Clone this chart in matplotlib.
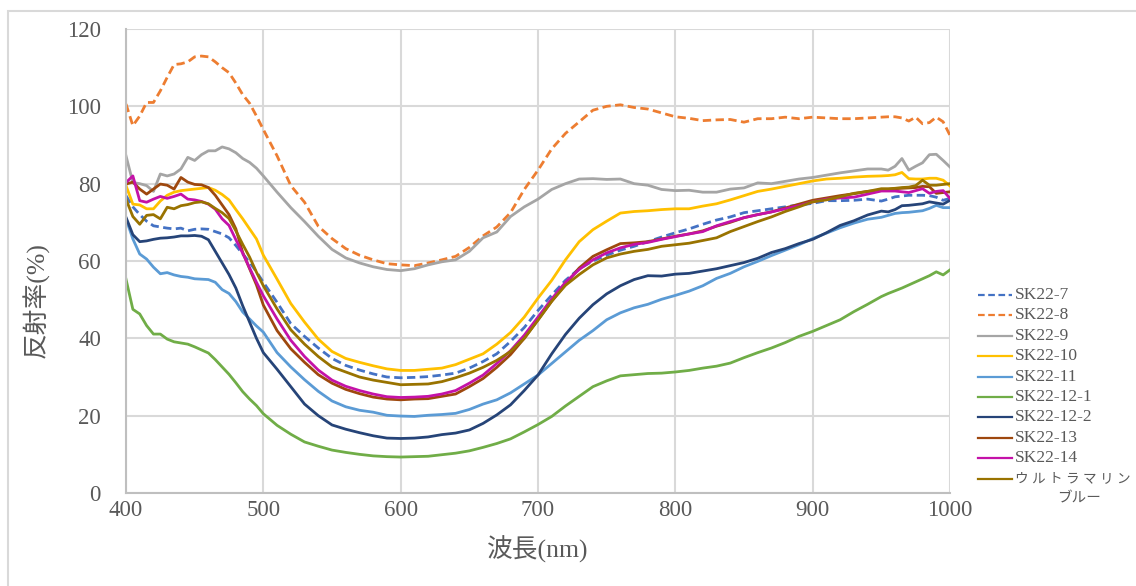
import numpy as np
import matplotlib
matplotlib.use('Agg')
import matplotlib.pyplot as plt
from matplotlib.lines import Line2D
from matplotlib.patches import Rectangle

plt.rcParams['font.family'] = ['Liberation Serif', 'Noto Sans CJK JP', 'DejaVu Sans']

# ---------------- data ----------------
wavelength = np.concatenate([np.arange(400, 501, 5), np.arange(510, 951, 10), np.arange(955, 1001, 5)])

series_names = ['SK22-7', 'SK22-8', 'SK22-9', 'SK22-10', 'SK22-11', 'SK22-12-1',
                'SK22-12-2', 'SK22-13', 'SK22-14', 'ウルトラマリンブルー']

sk22_7 = [76.9, 74.0, 72.0, 70.3, 69.1, 68.8, 68.5, 68.3, 68.5, 67.8, 68.2, 68.3, 68.2, 67.6, 67.0, 66.0, 64.0, 61.8, 59.7, 57.2, 54.5,
          49.3, 43.8, 40.5, 37.5, 34.8, 33.0, 31.8, 30.8, 30.0, 29.8,
          29.9, 30.1, 30.5, 31.0, 32.3, 34.0, 36.0, 39.2, 42.8, 47.2,
          51.2, 55.0, 58.0, 60.0, 61.5, 62.8, 63.8, 65.0, 66.2, 67.3,
          68.3, 69.5, 70.6, 71.4, 72.5, 73.0, 73.5, 74.0, 74.5, 74.9,
          75.6, 75.6, 75.7, 76.0, 75.5,
          76.0, 76.6, 76.8, 77.0, 77.0, 77.0, 76.9, 76.5, 75.7, 76.2]
sk22_8 = [100.6, 95.0, 97.5, 101.0, 101.0, 104.0, 107.5, 110.8, 111.0, 111.5, 112.8, 113.0, 112.8, 111.5, 110.0, 108.7, 106.0, 103.0, 100.8, 97.5, 94.0,
          87.2, 79.5, 75.2, 69.0, 65.8, 63.2, 61.5, 60.3, 59.3, 59.0,
          58.8, 59.5, 60.3, 61.2, 63.5, 66.5, 68.8, 72.5, 78.5, 83.5,
          89.0, 93.0, 96.0, 99.0, 100.0, 100.4, 99.7, 99.3, 98.3, 97.3,
          96.9, 96.3, 96.5, 96.6, 95.9, 96.8, 96.8, 97.2, 96.8, 97.2,
          97.0, 96.8, 96.8, 97.0, 97.2,
          97.3, 97.3, 97.0, 96.2, 97.2, 95.5, 95.8, 97.2, 96.0, 92.5]
sk22_9 = [87.2, 80.3, 80.0, 79.5, 78.0, 82.5, 82.0, 82.5, 83.8, 86.8, 86.0, 87.5, 88.5, 88.5, 89.5, 89.0, 88.0, 86.5, 85.5, 84.0, 82.0,
          77.8, 73.8, 70.2, 66.4, 63.0, 60.8, 59.5, 58.5, 57.8, 57.5,
          58.0, 59.0, 59.8, 60.3, 62.5, 66.0, 67.5, 71.5, 74.0, 76.0,
          78.5, 80.0, 81.2, 81.3, 81.1, 81.2, 80.0, 79.6, 78.5, 78.2,
          78.3, 77.8, 77.8, 78.6, 78.9, 80.2, 80.0, 80.6, 81.2, 81.6,
          82.2, 82.8, 83.3, 83.8, 83.8,
          83.5, 84.5, 86.5, 83.5, 84.5, 85.4, 87.5, 87.6, 86.0, 84.3]
sk22_10 = [79.5, 74.7, 74.5, 73.5, 73.5, 75.5, 77.0, 77.8, 78.2, 78.4, 78.6, 78.8, 79.0, 78.3, 77.2, 75.8, 73.3, 70.9, 68.3, 65.7, 61.5,
           55.3, 49.0, 44.2, 39.8, 36.6, 34.8, 33.8, 32.9, 32.1, 31.7,
           31.7, 32.0, 32.3, 33.2, 34.6, 36.0, 38.5, 41.5, 45.5, 50.4,
           55.0, 60.3, 65.0, 68.1, 70.3, 72.4, 72.8, 73.0, 73.3, 73.5,
           73.5, 74.2, 74.8, 75.8, 76.9, 78.0, 78.6, 79.3, 80.0, 80.7,
           81.2, 81.4, 81.7, 81.9, 82.0,
           82.1, 82.3, 82.9, 81.3, 81.2, 81.2, 81.4, 81.4, 80.9, 79.4]
sk22_11 = [70.9, 65.7, 61.8, 60.5, 58.4, 56.7, 57.0, 56.4, 56.0, 55.8, 55.4, 55.3, 55.2, 54.5, 52.6, 51.6, 49.5, 46.8, 45.0, 43.2, 41.6,
           36.3, 32.6, 29.3, 26.3, 23.8, 22.3, 21.4, 20.9, 20.1, 19.9,
           19.8, 20.1, 20.3, 20.6, 21.6, 23.0, 24.1, 25.9, 28.2, 30.5,
           33.5, 36.5, 39.5, 42.0, 44.8, 46.6, 47.9, 48.8, 50.1, 51.1,
           52.2, 53.6, 55.5, 56.8, 58.5, 59.9, 61.4, 62.8, 64.2, 65.8,
           67.2, 68.6, 69.8, 70.8, 71.3,
           71.8, 72.3, 72.5, 72.6, 72.8, 73.0, 73.6, 74.4, 73.8, 73.8]
sk22_12_1 = [55.3, 47.5, 46.3, 43.3, 41.1, 41.1, 39.8, 39.1, 38.8, 38.5, 37.8, 37.0, 36.2, 34.5, 32.6, 30.7, 28.5, 26.2, 24.3, 22.6, 20.5,
             17.5, 15.2, 13.2, 12.1, 11.1, 10.5, 10.0, 9.6, 9.4, 9.3,
             9.4, 9.5, 9.9, 10.3, 10.9, 11.8, 12.8, 14.0, 15.8, 17.7,
             19.8, 22.5, 25.0, 27.5, 29.0, 30.3, 30.6, 30.9, 31.0, 31.3,
             31.7, 32.3, 32.8, 33.6, 35.0, 36.3, 37.5, 38.9, 40.5, 41.8,
             43.3, 44.8, 46.9, 48.8, 50.8,
             51.6, 52.3, 53.0, 53.8, 54.6, 55.4, 56.2, 57.2, 56.4, 57.7]
sk22_12_2 = [71.3, 66.8, 65.0, 65.2, 65.6, 65.9, 66.0, 66.2, 66.5, 66.5, 66.6, 66.4, 65.5, 62.5, 59.5, 56.5, 53.0, 48.4, 44.2, 40.0, 36.3,
             32.0, 27.5, 23.0, 20.0, 17.6, 16.5, 15.6, 14.8, 14.2, 14.1,
             14.2, 14.5, 15.1, 15.5, 16.3, 18.0, 20.2, 22.8, 26.5, 30.5,
             36.0, 41.0, 45.2, 48.7, 51.5, 53.6, 55.2, 56.2, 56.1, 56.6,
             56.8, 57.4, 58.0, 58.8, 59.6, 60.7, 62.2, 63.2, 64.5, 65.6,
             67.3, 69.2, 70.4, 71.9, 72.9,
             72.7, 73.3, 74.3, 74.4, 74.6, 74.8, 75.3, 75.0, 74.7, 75.7]
sk22_13 = [79.9, 80.4, 78.6, 77.3, 78.6, 79.9, 79.6, 78.6, 81.6, 80.4, 79.8, 79.7, 79.0, 77.0, 74.5, 72.0, 68.3, 62.2, 58.0, 53.8, 48.6,
           42.0, 37.3, 33.8, 30.6, 28.4, 26.8, 25.7, 24.8, 24.3, 24.1,
           24.3, 24.4, 25.0, 25.6, 27.5, 29.6, 32.5, 35.8, 40.0, 44.8,
           49.6, 54.0, 58.2, 61.2, 62.9, 64.5, 64.7, 65.0, 65.7, 66.4,
           67.0, 67.8, 69.0, 70.0, 71.2, 72.0, 72.7, 73.7, 74.7, 75.7,
           76.3, 76.9, 77.4, 78.0, 78.3,
           78.5, 78.7, 78.8, 78.9, 79.0, 79.3, 79.2, 77.5, 77.7, 77.9]
sk22_14 = [80.3, 82.0, 75.6, 75.2, 76.0, 76.7, 76.2, 76.7, 77.3, 76.0, 75.8, 75.4, 74.7, 73.4, 70.9, 69.2, 65.5, 62.0, 58.2, 54.5, 51.0,
           45.0, 39.5, 35.3, 31.8, 29.2, 27.6, 26.5, 25.6, 24.9, 24.7,
           24.8, 25.0, 25.6, 26.5, 28.4, 30.5, 33.5, 36.8, 40.8, 45.5,
           50.2, 54.5, 57.8, 60.3, 62.1, 63.4, 64.3, 64.8, 65.6, 66.3,
           67.0, 67.6, 69.1, 70.2, 71.2, 72.0, 72.7, 73.5, 74.3, 75.3,
           76.0, 76.3, 76.5, 77.3, 78.1,
           78.1, 78.1, 77.9, 77.7, 78.2, 78.7, 77.5, 78.0, 78.2, 76.2]
ultramarine = [76.0, 71.5, 69.5, 71.8, 72.0, 70.9, 73.9, 73.5, 74.3, 74.6, 75.1, 75.3, 74.8, 73.6, 72.5, 71.0, 67.8, 64.3, 61.0, 57.1, 53.6,
               47.6, 42.2, 38.5, 35.3, 32.6, 31.3, 30.0, 29.2, 28.6, 28.0,
               28.1, 28.2, 28.8, 29.8, 31.0, 32.5, 34.3, 36.6, 40.0, 44.7,
               49.6, 53.7, 56.5, 59.0, 60.8, 61.8, 62.5, 63.0, 63.8, 64.2,
               64.6, 65.3, 66.0, 67.6, 68.9, 70.2, 71.4, 72.8, 74.0, 75.3,
               75.8, 76.6, 77.5, 78.0, 78.7,
               78.7, 78.8, 79.0, 79.1, 79.5, 80.9, 79.6, 79.6, 79.8, 80.0]

x_ticks = [400, 500, 600, 700, 800, 900, 1000]
y_ticks = [0, 20, 40, 60, 80, 100, 120]
x_label = '波長(nm)'
y_label = '反射率(%)'

# ---------------- style ----------------
all_series = [sk22_7, sk22_8, sk22_9, sk22_10, sk22_11, sk22_12_1, sk22_12_2, sk22_13, sk22_14, ultramarine]
colors = ['#4472C4', '#ED7D31', '#A5A5A5', '#FFC000', '#5B9BD5', '#70AD47',
          '#264478', '#9E480E', '#C412A8', '#997300']
styles = [(0, (3, 1.6)), (0, (3, 1.6)), '-', '-', '-', '-', '-', '-', '-', '-']
text_color = '#595959'
grid_color = '#D9D9D9'

W, H = 1136, 586
fig = plt.figure(figsize=(W / 100, H / 100), dpi=100)
fig.patch.set_facecolor('white')

# outer chart frame (cropped at right/bottom)
fig.add_artist(Rectangle((8 / W, -0.05), 1.1, (H - 11) / H + 0.05, transform=fig.transFigure,
                         fill=False, edgecolor='#D9D9D9', linewidth=1.5))

ax = fig.add_axes([126 / W, (H - 493) / H, (950 - 126) / W, (493 - 29) / H])
for vals, c, ls in zip(all_series, colors, styles):
    ax.plot(wavelength, vals, color=c, linestyle=ls, linewidth=2.0, solid_joinstyle='round')

ax.set_xlim(400, 1000)
ax.set_ylim(0, 120)
ax.set_xticks(x_ticks)
ax.set_yticks(y_ticks)
ax.grid(True, color=grid_color, linewidth=1.5)
ax.set_axisbelow(True)
for s in ['top', 'right']:
    ax.spines[s].set_visible(False)
for s in ['left', 'bottom']:
    ax.spines[s].set_color('#BFBFBF')
    ax.spines[s].set_linewidth(1.5)
ax.tick_params(axis='both', length=0, labelsize=16.5, labelcolor=text_color)
ax.tick_params(axis='y', pad=18)
ax.tick_params(axis='x', pad=5)

fig.text(538 / W, 1 - 549 / H, x_label, ha='center', va='center', fontsize=18.5, color=text_color)
fig.text(36 / W, 1 - 300 / H, y_label, ha='center', va='center', rotation=90, fontsize=18.5, color=text_color)

# legend drawn manually
y0, dy = 295, 20.4
for i, (name, c, ls) in enumerate(zip(series_names, colors, styles)):
    yy = 1 - (y0 + i * dy) / H
    fig.add_artist(Line2D([978 / W, 1012 / W], [yy, yy], transform=fig.transFigure,
                          color=c, linestyle=ls, linewidth=1.6))
    if i < len(series_names) - 1:
        fig.text(1015 / W, yy, name, ha='left', va='center', fontsize=12.5, color=text_color)
    else:
        first, second = name[:7], name[7:]
        fig.text(1015 / W, yy, ' '.join(first), ha='left', va='center', fontsize=9.8, color=text_color)
        fig.text(1079 / W, 1 - (y0 + (i + 1) * dy) / H, second, ha='center', va='center',
                 fontsize=10.5, color=text_color)

fig.savefig('out.png', dpi=100)
